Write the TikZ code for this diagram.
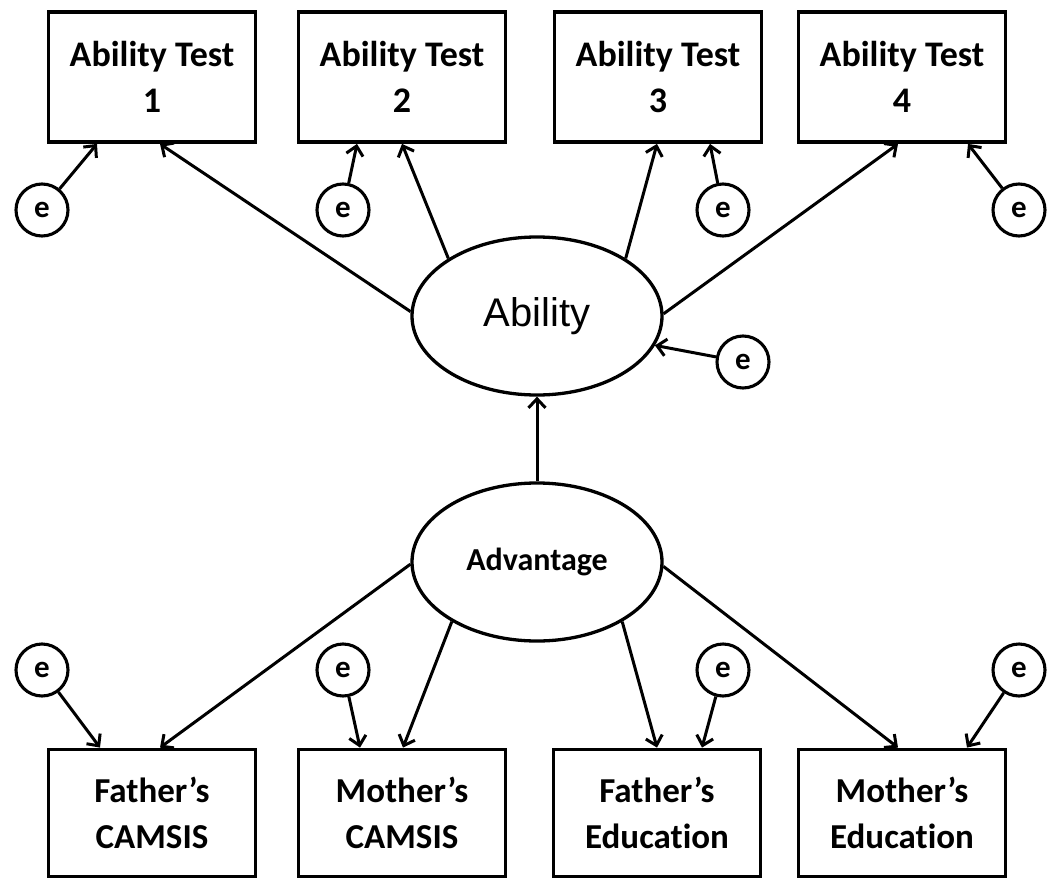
\documentclass[tikz,border=0pt]{standalone}
\usepackage{fontspec}
\newfontfamily\calfont[Ligatures=NoCommon]{Carlito}
\newfontfamily\arifont{Liberation Sans}
\usetikzlibrary{arrows.meta,shapes.geometric}
\begin{document}
\begin{tikzpicture}[x=1pt,y=-1pt,
  obsbox/.style={draw, line width=3.8pt, minimum width=207pt, inner sep=0pt, align=center},
  topbox/.style={obsbox, minimum height=130pt, font=\calfont\bfseries\fontsize{36}{46}\selectfont},
  botbox/.style={obsbox, minimum height=127pt, font=\calfont\bfseries\fontsize{35}{46}\selectfont},
  latent/.style={draw, ellipse, line width=3.3pt, minimum width=250pt, minimum height=158pt, inner sep=0pt},
  errc/.style={draw, circle, line width=3.1pt, minimum size=52pt, inner sep=0pt,
    font=\calfont\bfseries\fontsize{31}{31}\selectfont},
  arr/.style={line width=3pt, -{Straight Barb[length=9pt,width=17pt]}}
]
\useasboundingbox (0,0) rectangle (1057,880);

% top observed boxes
\node[topbox] (t1) at (152,77) {Ability Test\\1};
\node[topbox] (t2) at (402,77) {Ability Test\\2};
\node[topbox] (t3) at (658,77) {Ability Test\\3};
\node[topbox] (t4) at (902,77) {Ability Test\\4};

% bottom observed boxes
\node[botbox] (b1) at (152,813) {Father’s\\CAMSIS};
\node[botbox] (b2) at (402,813) {Mother’s\\CAMSIS};
\node[botbox] (b3) at (657,813) {Father’s\\Education};
\node[botbox] (b4) at (902,813) {Mother’s\\Education};

% latent variables
\node[latent, font=\arifont\fontsize{40}{40}\selectfont] (abil) at (537,316) {Ability};
\node[latent, font=\calfont\bfseries\fontsize{32}{32}\selectfont] (adv) at (537,562) {Advantage};

% error terms
\node[errc] (et1) at (42,210) {e};
\node[errc] (et2) at (343,210) {e};
\node[errc] (et3) at (723,210) {e};
\node[errc] (et4) at (1019,210) {e};
\node[errc] (ea) at (743,362) {e};
\node[errc] (eb1) at (42,670) {e};
\node[errc] (eb2) at (343,670) {e};
\node[errc] (eb3) at (723,670) {e};
\node[errc] (eb4) at (1019,670) {e};

% Ability -> tests
\draw[arr] (abil.178) -- ([xshift=8pt]t1.south);
\draw[arr] (abil.147) -- ([xshift=0pt]t2.south);
\draw[arr] (abil.33) -- ([xshift=-1pt]t3.south);
\draw[arr] (abil.1) -- ([xshift=-4pt]t4.south);

% errors -> tests
\draw[arr] (et1) -- ([xshift=-55pt]t1.south);
\draw[arr] (et2) -- ([xshift=-45pt]t2.south);
\draw[arr] (et3) -- ([xshift=52pt]t3.south);
\draw[arr] (et4) -- ([xshift=66pt]t4.south);

% error -> Ability
\draw[arr] (ea) -- (abil.-14);

% Advantage -> Ability
\draw[arr] (adv.north) -- (abil.south);

% Advantage -> indicators
\draw[arr] (adv.181) -- ([xshift=8pt]b1.north);
\draw[arr] (adv.215) -- ([xshift=1pt]b2.north);
\draw[arr] (adv.325) -- ([xshift=0pt]b3.north);
\draw[arr] (adv.358) -- ([xshift=-4pt]b4.north);

% errors -> indicators
\draw[arr] (eb1) -- ([xshift=-52pt]b1.north);
\draw[arr] (eb2) -- ([xshift=-42pt]b2.north);
\draw[arr] (eb3) -- ([xshift=45pt]b3.north);
\draw[arr] (eb4) -- ([xshift=65pt]b4.north);
\end{tikzpicture}
\end{document}
